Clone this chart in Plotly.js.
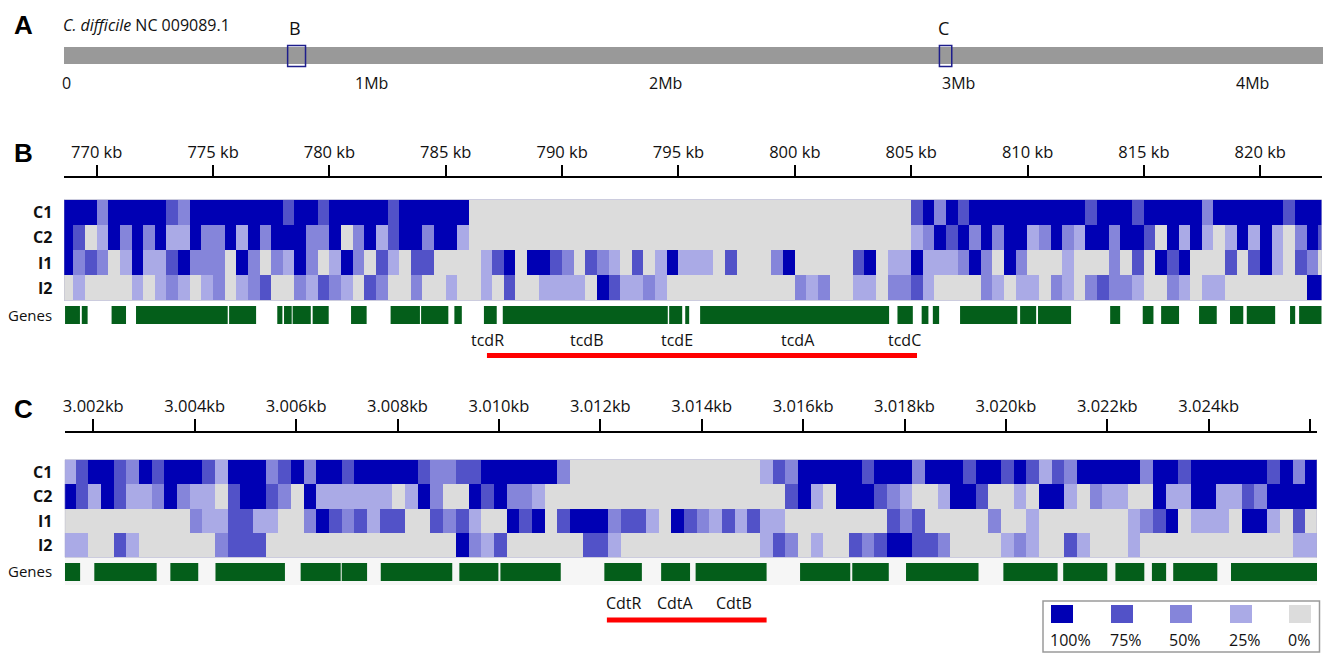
<!DOCTYPE html>
<html><head><meta charset="utf-8">
<script src="https://cdn.plot.ly/plotly-3.0.1.min.js"></script>
<style>html,body{margin:0;padding:0;background:#fff;overflow:hidden}#chart{width:1323px;height:653px}</style>
</head><body><div id="chart"></div>
<script>
// ---------------- Panel A: genome overview (Mb) ----------------
const genomeTitle = '<i>C. difficile</i> NC 009089.1';
const genomeLengthMb = 4.29;
const genomeTicksMb = [0, 1, 2, 3, 4];
const genomeTickText = ['0', '1Mb', '2Mb', '3Mb', '4Mb'];
const zoomBoxNames = ['B', 'C'];
const zoomBoxStartMb = [0.762, 2.983];
const zoomBoxEndMb = [0.823, 3.025];

// ---------------- shared ----------------
const sampleRows = ['C1', 'C2', 'I1', 'I2'];
// coverage level per bin: 0..4  ->  0%, 25%, 50%, 75%, 100%
const legendLevels = [4, 3, 2, 1, 0];
const legendLabels = ['100%', '75%', '50%', '25%', '0%'];

// ---------------- Panel B: 768.6 - 822.6 kb, 0.5 kb bins ----------------
const viewB = [768.595, 822.64];
const binStartB = 768.5, binSizeB = 0.5;
const tickValsB = [770, 775, 780, 785, 790, 795, 800, 805, 810, 815, 820];
const tickTextB = ['770 kb','775 kb','780 kb','785 kb','790 kb','795 kb','800 kb','805 kb','810 kb','815 kb','820 kb'];
const covB_C1 = [4,4,4,2,4,4,4,4,4,3, 2,4,4,4,4,4,4,4,4,3, 4,4,3,4,4,4,4,4,3,4, 4,4,4,4,4,0,0,0,0,0,
  0,0,0,0,0,0,0,0,0,0, 0,0,0,0,0,0,0,0,0,0, 0,0,0,0,0,0,0,0,0,0, 0,0,0,3,4,2,4,3,4,4,
  4,4,4,4,4,4,4,4,3,4, 4,4,3,4,4,4,4,4,2,4, 4,4,4,4,4,3,4,4,4];
const covB_C2 = [4,3,0,1,4,2,4,2,4,1, 1,4,2,2,4,1,4,2,4,4, 4,2,2,4,0,2,4,1,3,4, 4,2,4,4,1,0,0,0,0,0,
  0,0,0,0,0,0,0,0,0,0, 0,0,0,0,0,0,0,0,0,0, 0,0,0,0,0,0,0,0,0,0, 0,0,0,1,2,4,3,4,2,4,
  2,4,4,1,2,4,2,1,4,4, 2,4,4,3,0,4,1,4,1,0, 1,4,1,4,1,0,2,4,3];
const covB_I1 = [4,2,3,2,0,1,4,1,1,3, 4,2,2,2,0,4,2,0,2,1, 4,2,0,1,4,2,0,3,1,0, 3,3,0,0,0,0,1,3,4,0,
  4,4,3,2,0,3,2,1,0,3, 0,1,4,1,1,1,0,3,0,0, 0,2,4,0,0,0,0,0,3,4, 0,1,1,4,1,1,1,2,4,2,
  0,4,2,0,0,0,1,0,0,0, 2,0,3,0,4,3,4,0,0,0, 3,0,3,4,1,0,3,2,0];
const covB_I2 = [0,1,0,0,0,0,1,0,1,2, 1,0,1,2,0,1,2,3,0,0, 2,1,3,2,1,0,3,2,0,0, 2,0,0,1,0,0,1,0,3,0,
  0,1,1,1,1,0,4,3,1,1, 2,1,0,0,0,0,0,0,0,0, 0,0,0,2,1,2,0,0,1,1, 0,2,2,3,1,0,0,0,0,2,
  1,0,1,1,0,2,1,0,2,3, 2,2,1,0,0,2,1,0,1,1, 0,0,0,0,0,0,0,4,4];
const geneStartB = [768.64,769.36,770.64,771.69,775.69,777.76,778.05,778.42,779.28,780.93,782.63,783.94,785.37,786.64,787.45,794.60,795.29,795.93,804.41,805.45,805.93,807.10,809.68,810.45,813.55,814.95,815.74,817.37,818.70,819.42,821.28,821.67];
const geneEndB   = [769.28,769.61,771.26,775.63,776.85,777.98,778.38,779.20,779.97,781.60,783.89,785.11,785.69,787.19,794.54,795.16,795.46,804.05,805.07,805.74,806.20,809.56,810.37,811.87,813.98,815.41,816.51,818.13,819.27,820.64,821.50,822.64];
const toxinNamesB = ['tcdR', 'tcdB', 'tcdE', 'tcdA', 'tcdC'];
const toxinPosB = [786.79, 791.09, 794.94, 800.14, 804.72];
const locusB = [786.77, 805.25];

// ---------------- Panel C: 3001.4 - 3026.1 kb, 0.25 kb bins ----------------
const viewC = [3001.438, 3026.136];
const binStartC = 3001.4, binSizeC = 0.25;
const tickValsC = [3002,3004,3006,3008,3010,3012,3014,3016,3018,3020,3022,3024,3026];
const tickTextC = ['3.002kb','3.004kb','3.006kb','3.008kb','3.010kb','3.012kb','3.014kb','3.016kb','3.018kb','3.020kb','3.022kb','3.024kb',''];
const covC_C1 = [1,3,4,4,3,2,4,3,4,4, 4,3,1,4,4,4,2,3,4,2, 4,4,3,4,4,4,4,4,3,2, 2,3,3,4,4,4,4,4,4,2,
  0,0,0,0,0,0,0,0,0,0, 0,0,0,0,0,1,3,2,4,4, 4,4,4,3,4,4,4,2,4,4, 4,3,4,4,3,4,3,1,3,2,
  4,4,4,4,4,2,4,4,3,4, 4,4,4,4,4,3,4,2,4];
const covC_C2 = [4,3,1,4,3,1,1,2,4,2, 1,1,0,3,4,4,3,2,0,4, 1,1,1,1,1,1,0,1,4,2, 0,0,4,3,4,2,2,1,0,0,
  0,0,0,0,0,0,0,0,0,0, 0,0,0,0,0,0,0,3,4,1, 0,4,4,4,3,2,1,0,0,1, 4,4,3,0,0,1,0,4,4,1,
  0,2,1,1,0,0,4,1,1,4, 4,1,1,3,2,4,4,4,4];
const covC_I1 = [0,0,0,0,0,0,0,0,0,0, 2,1,1,3,3,1,1,0,0,2, 4,3,2,3,1,3,3,0,0,3, 2,3,1,0,0,4,3,4,0,3,
  4,4,4,2,3,3,1,0,4,3, 2,1,3,1,3,1,1,0,0,0, 0,0,0,0,0,3,2,3,0,0, 0,0,0,2,0,0,1,0,0,0,
  0,0,0,0,1,2,3,4,0,1, 1,1,0,4,4,1,0,3,0];
const covC_I2 = [1,1,0,0,3,1,0,0,0,0, 0,0,2,3,3,3,0,0,0,0, 0,0,0,0,0,0,0,0,0,0, 0,4,2,1,3,0,0,0,0,0,
  0,3,3,1,0,0,0,0,0,0, 0,0,0,0,0,1,3,2,0,1, 0,0,3,2,3,4,4,3,3,2, 0,0,0,0,1,2,1,0,0,3,
  1,0,0,0,1,0,0,0,0,0, 0,0,0,0,0,0,0,1,1];
const geneStartC = [3001.44,3002.02,3003.52,3004.41,3006.09,3006.90,3007.67,3009.22,3010.03,3012.08,3013.20,3013.88,3015.94,3016.97,3018.03,3019.95,3021.13,3022.16,3022.88,3023.30,3024.44];
const geneEndC   = [3001.74,3003.25,3004.07,3005.78,3006.88,3007.40,3009.08,3009.99,3011.22,3012.82,3013.77,3015.28,3016.93,3017.69,3019.46,3021.02,3022.00,3022.73,3023.16,3024.17,3026.14];
const toxinNamesC = ['CdtR', 'CdtA', 'CdtB'];
const toxinPosC = [3012.46, 3013.49, 3014.63];
const locusC = [3012.13, 3015.28];

// ---------------- styles ----------------
const levelColors = ['#dcdcdc', '#aaaae6', '#8585da', '#5252c8', '#0000b4'];
const geneColor = '#045e1a';
const FONT = 'Open Sans, Noto Sans, sans-serif';
const W = 1323, H = 653;
const X = v => v / W, Y = v => 1 - v / H;
const colorscale = levelColors.map((c, i) => [i / 4, c]);

const traces = [
  { type: 'bar', orientation: 'h', base: [0], x: [genomeLengthMb], y: [0], width: 1,
    marker: { color: '#999999', line: { width: 0 } }, xaxis: 'x', yaxis: 'y', hoverinfo: 'skip' },
  { type: 'heatmap', z: [covB_C1, covB_C2, covB_I1, covB_I2], x0: binStartB + binSizeB / 2, dx: binSizeB,
    y0: 0, dy: 1, zmin: 0, zmax: 4, colorscale, showscale: false, xaxis: 'x2', yaxis: 'y2', hoverinfo: 'skip' },
  { type: 'bar', orientation: 'h', base: geneStartB, x: geneEndB.map((e, i) => e - geneStartB[i]),
    y: geneStartB.map(() => 0), width: 1, marker: { color: geneColor, line: { width: 0 } },
    xaxis: 'x2', yaxis: 'y3', hoverinfo: 'skip' },
  { type: 'heatmap', z: [covC_C1, covC_C2, covC_I1, covC_I2], x0: binStartC + binSizeC / 2, dx: binSizeC,
    y0: 0, dy: 1, zmin: 0, zmax: 4, colorscale, showscale: false, xaxis: 'x3', yaxis: 'y4', hoverinfo: 'skip' },
  { type: 'bar', orientation: 'h', base: geneStartC, x: geneEndC.map((e, i) => e - geneStartC[i]),
    y: geneStartC.map(() => 0), width: 1, marker: { color: geneColor, line: { width: 0 } },
    xaxis: 'x3', yaxis: 'y5', hoverinfo: 'skip' }
];

const hidden = { visible: false, fixedrange: true };
const topAxis = (domain, range, pos, vals, text, len) => ({
  domain, range, anchor: 'free', position: pos, side: 'top', ticks: 'outside', ticklen: len,
  tickwidth: 2, tickcolor: '#000', showline: true, linewidth: 2, linecolor: '#000',
  tickvals: vals, ticktext: text, showgrid: false, zeroline: false, fixedrange: true,
  tickfont: { family: FONT, size: 16.5, color: '#111' }
});

const annotations = [];
const ann = (o) => annotations.push(Object.assign({ showarrow: false, font: { family: FONT, size: 16, color: '#111' } }, o));

// panel letters
[['A', 24.5], ['B', 153], ['C', 409]].forEach(([t, y]) =>
  ann({ text: '<b>' + t + '</b>', xref: 'paper', yref: 'paper', x: X(23), y: Y(y), xanchor: 'center', yanchor: 'middle',
        font: { family: 'Liberation Sans, Arial, sans-serif', size: 26, color: '#000' } }));
ann({ text: genomeTitle, xref: 'paper', yref: 'paper', x: X(61), y: Y(25), xanchor: 'left', yanchor: 'middle', font: { family: FONT, size: 16, color: '#111' } });
zoomBoxNames.forEach((n, i) => ann({ text: n, xref: 'x', yref: 'paper', x: (zoomBoxStartMb[i] + zoomBoxEndMb[i]) / 2, xshift: -2,
  y: Y(28), xanchor: 'center', yanchor: 'middle', font: { family: FONT, size: 18, color: '#111' } }));
genomeTicksMb.forEach((v, i) => ann({ text: genomeTickText[i], xref: 'x', yref: 'paper', x: v, xshift: -4, y: Y(83), xanchor: 'left', yanchor: 'middle' }));

// row labels
[['y2', 'y3', 315], ['y4', 'y5', 571]].forEach(([yh, yg, gy]) => {
  sampleRows.forEach((r, i) => ann({ text: '<b>' + r + '</b>', xref: 'paper', yref: yh, x: X(54), y: i, xanchor: 'right', yanchor: 'middle',
    font: { family: FONT, size: 16, color: '#111' } }));
  ann({ text: 'Genes', xref: 'paper', yref: 'paper', x: X(54), y: Y(gy), xanchor: 'right', yanchor: 'middle', font: { family: FONT, size: 15, color: '#111' } });
});
toxinNamesB.forEach((n, i) => ann({ text: n, xref: 'x2', yref: 'paper', x: toxinPosB[i], y: Y(340), xanchor: 'center', yanchor: 'middle', font: { family: FONT, size: 16, color: '#111' } }));
toxinNamesC.forEach((n, i) => ann({ text: n, xref: 'x3', yref: 'paper', x: toxinPosC[i], y: Y(603), xanchor: 'center', yanchor: 'middle', font: { family: FONT, size: 16, color: '#111' } }));

// legend
const swatchLeft = [1051, 1111, 1170, 1230, 1289];
const shapes = [];
legendLevels.forEach((lv, i) => {
  shapes.push({ type: 'rect', xref: 'paper', yref: 'paper', x0: X(swatchLeft[i]), x1: X(swatchLeft[i] + 22), y0: Y(623), y1: Y(605),
    fillcolor: levelColors[lv], line: { width: 0 } });
  ann({ text: legendLabels[i], xref: 'paper', yref: 'paper', x: X(swatchLeft[i] - 3), y: Y(640), xanchor: 'left', yanchor: 'middle' });
});
shapes.push({ type: 'rect', xref: 'paper', yref: 'paper', x0: X(1043), x1: X(1319.5), y0: Y(652), y1: Y(601), line: { color: '#9a9a9a', width: 1.5 }, fillcolor: 'rgba(0,0,0,0)' });

// genome zoom boxes
zoomBoxNames.forEach((n, i) => shapes.push({ type: 'rect', xref: 'x', yref: 'paper', x0: zoomBoxStartMb[i], x1: zoomBoxEndMb[i],
  y0: Y(66.5), y1: Y(45.5), line: { color: '#1e1e8c', width: 1.5 }, fillcolor: 'rgba(0,0,0,0)' }));
// gene band background in C
shapes.push({ type: 'rect', xref: 'x3', yref: 'paper', x0: viewC[0], x1: viewC[1], y0: Y(585), y1: Y(558), fillcolor: '#f6f6f6', line: { width: 0 }, layer: 'below' });
// heatmap frames
shapes.push({ type: 'rect', xref: 'x2', yref: 'paper', x0: viewB[0], x1: viewB[1], y0: Y(300.5), y1: Y(199.5), line: { color: 'rgba(170,170,200,0.6)', width: 1 }, fillcolor: 'rgba(0,0,0,0)' });
shapes.push({ type: 'rect', xref: 'x3', yref: 'paper', x0: viewC[0], x1: viewC[1], y0: Y(557.5), y1: Y(459.5), line: { color: 'rgba(170,170,200,0.6)', width: 1 }, fillcolor: 'rgba(0,0,0,0)' });
// toxin loci
shapes.push({ type: 'line', xref: 'x2', yref: 'paper', x0: locusB[0], x1: locusB[1], y0: Y(355.5), y1: Y(355.5), line: { color: '#ff0000', width: 5 } });
shapes.push({ type: 'line', xref: 'x3', yref: 'paper', x0: locusC[0], x1: locusC[1], y0: Y(620), y1: Y(620), line: { color: '#ff0000', width: 5 } });

const layout = {
  width: W, height: H, margin: { l: 0, r: 0, t: 0, b: 0 }, paper_bgcolor: '#fff', plot_bgcolor: 'rgba(0,0,0,0)',
  showlegend: false, font: { family: FONT, size: 16, color: '#111' },
  xaxis: Object.assign({ domain: [X(64), X(1323)], range: [0, genomeLengthMb] }, hidden),
  yaxis: Object.assign({ domain: [Y(64), Y(47)], range: [-0.5, 0.5] }, hidden),
  xaxis2: topAxis([X(64), X(1321.7)], viewB, Y(176.7), tickValsB, tickTextB, 11),
  yaxis2: Object.assign({ domain: [Y(300), Y(200)], range: [3.5, -0.5] }, hidden),
  yaxis3: Object.assign({ domain: [Y(324), Y(306)], range: [-0.5, 0.5] }, hidden),
  xaxis3: topAxis([X(64.8), X(1317)], viewC, Y(431.7), tickValsC, tickTextC, 12),
  yaxis4: Object.assign({ domain: [Y(557), Y(460)], range: [3.5, -0.5] }, hidden),
  yaxis5: Object.assign({ domain: [Y(581), Y(563)], range: [-0.5, 0.5] }, hidden),
  annotations, shapes
};

Plotly.newPlot('chart', traces, layout, { staticPlot: true, displayModeBar: false });
</script>
</body></html>
